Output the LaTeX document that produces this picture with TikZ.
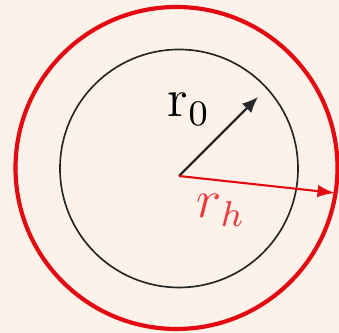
\documentclass[tikz,border=0pt]{standalone}
\usetikzlibrary{arrows.meta}
\definecolor{bgpeach}{RGB}{252,242,233}
\definecolor{ringred}{RGB}{228,10,18}
\begin{document}
\begin{tikzpicture}[x=0.24pt,y=-0.24pt,
  lbl/.style={inner sep=0pt,outer sep=0pt,anchor=base west,font=\large,scale=1.08},
  thinring/.style={draw=black!85,line width=0.4pt},
  thickring/.style={draw=ringred,line width=1pt},
  blackarrow/.style={draw=black!85,line width=0.55pt,-{Latex[length=3.8pt,width=3.2pt]}},
  redarrow/.style={draw=ringred,line width=0.5pt,-{Latex[length=4.2pt,width=3pt]}}]
\fill[bgpeach] (0,0) rectangle (339,333);
\useasboundingbox (0,0) rectangle (339,333);
\coordinate (rc) at (176.5,168);
\coordinate (bc) at (179,168.5);
\coordinate (O) at (179,176);
\coordinate (tb) at (258,97);
\coordinate (tr) at (335,193);
\draw[thickring] (rc) circle[radius=161];
\draw[thinring] (bc) circle[radius=119];
\draw[blackarrow] (O) -- (tb);
\draw[redarrow] (O) -- (tr);
\node[lbl] (r0) at (168,117) {$\mathrm{r}_{\mathrm{0}}$};
\node[lbl,text=ringred!80] (rh) at (197,218) {$r_h$};
\end{tikzpicture}
\end{document}
